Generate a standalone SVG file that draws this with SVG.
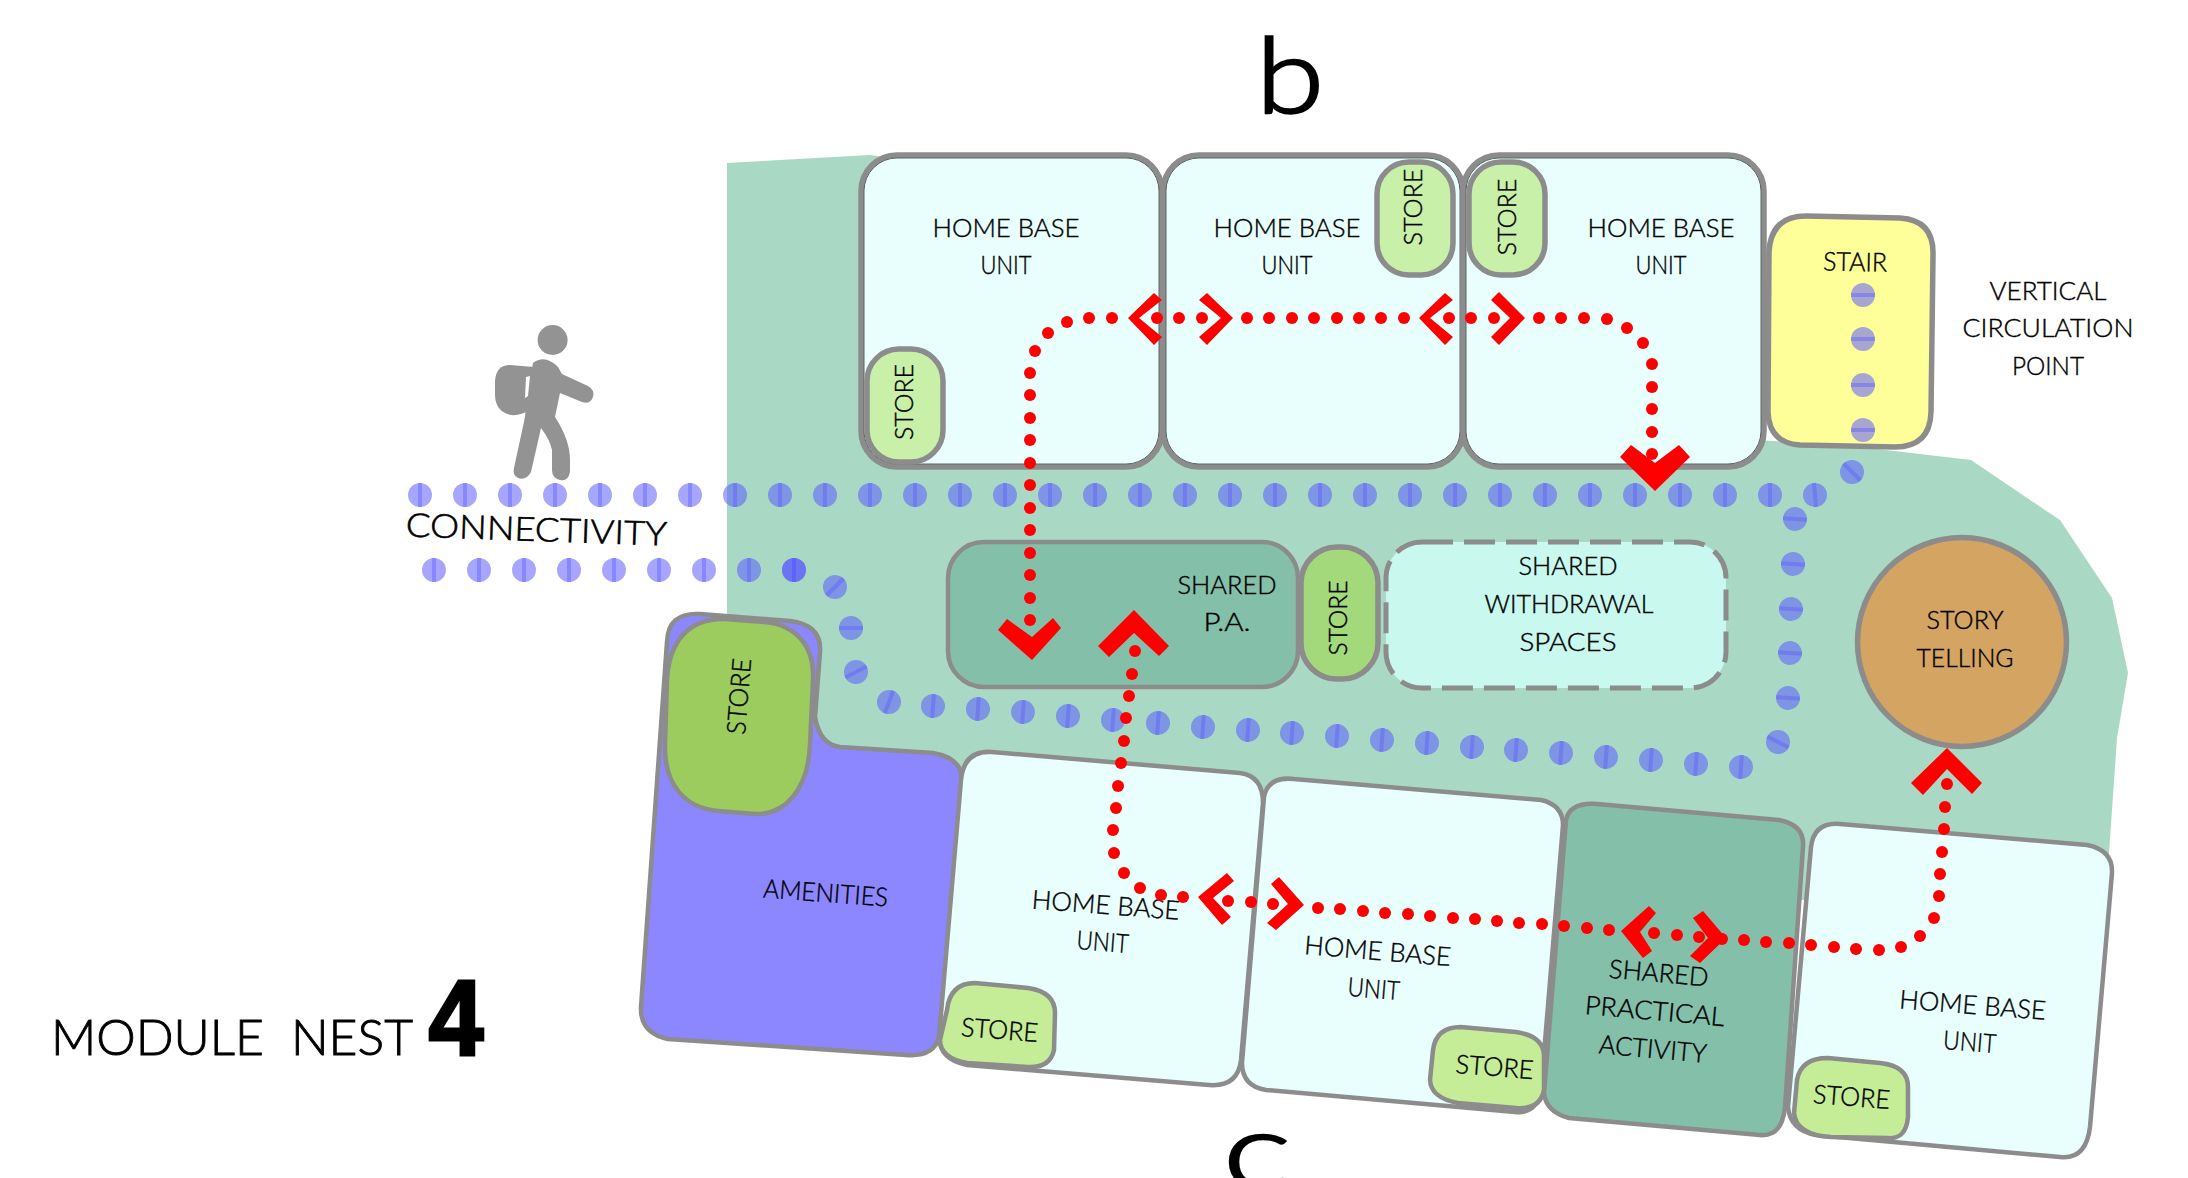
<svg xmlns="http://www.w3.org/2000/svg" width="2188" height="1178" viewBox="0 0 2188 1178">
<style>
text{font-family:"Lato","Liberation Sans",sans-serif;font-weight:300;font-size:26px;fill:#000;stroke:#000;stroke-width:.4;text-anchor:middle;white-space:pre}
.n{stroke:#8c8c8c;stroke-width:4.5}
.t{stroke-width:5.5}
.hb{fill:#e8fffe}
.s1{fill:#c9f0a9}
.s2{fill:#c5ec96}
.pa{fill:#84bfaa}
.ink{fill:none;stroke:#222;stroke-width:.7}
.r{fill:#ff0000}
.b{fill:#5a5aff;fill-opacity:.54}
.bs{stroke:#5a5aff;stroke-opacity:.4;stroke-width:4}
</style>
<defs>
<g id="bd"><circle class="b" r="12"/><line class="bs" y1="-12" y2="12"/></g>
<circle id="rd" class="r" r="6"/>
</defs>
<rect width="2188" height="1178" fill="#ffffff"/>
<path id="ground" fill="#a9d8c4" d="M727,163 L870,155 L885,157 L900,200 L1740,200 L1758,440 L1860,447 L1971,460 L2030,500 L2060,520 L2112,598 L2128,673 L2117,738 L2109,853 L2109,900 L1000,900 L850,800 L800,700 L790,620 L727,616 Z"/>

<g id="home-base-1">
<rect class="n t hb" x="861" y="155" width="301" height="312" rx="36"/>
<rect class="ink" x="864" y="158" width="295" height="306" rx="33"/>
<text x="1006" y="237" textLength="147" lengthAdjust="spacingAndGlyphs">HOME BASE</text>
<text x="1006" y="274" textLength="51" lengthAdjust="spacingAndGlyphs">UNIT</text>
</g>
<g id="home-base-2">
<rect class="n t hb" x="1163" y="155" width="300" height="312" rx="36"/>
<rect class="ink" x="1166" y="158" width="294" height="306" rx="33"/>
<text x="1287" y="237" textLength="147" lengthAdjust="spacingAndGlyphs">HOME BASE</text>
<text x="1287" y="274" textLength="51" lengthAdjust="spacingAndGlyphs">UNIT</text>
</g>
<g id="home-base-3">
<rect class="n t hb" x="1463" y="155" width="301" height="312" rx="36"/>
<rect class="ink" x="1466" y="158" width="295" height="306" rx="33"/>
<text x="1661" y="237" textLength="147" lengthAdjust="spacingAndGlyphs">HOME BASE</text>
<text x="1661" y="274" textLength="51" lengthAdjust="spacingAndGlyphs">UNIT</text>
</g>
<g id="store-1">
<rect class="n t s1" x="867" y="349" width="76" height="113" rx="32"/>
<text transform="translate(913,402) rotate(-90)" textLength="76" lengthAdjust="spacingAndGlyphs">STORE</text>
</g>
<g id="store-2">
<rect class="n t s1" x="1377" y="162" width="76" height="113" rx="32"/>
<text transform="translate(1422,207) rotate(-90)" textLength="77" lengthAdjust="spacingAndGlyphs">STORE</text>
</g>
<g id="store-3">
<rect class="n t s1" x="1469" y="162" width="76" height="113" rx="32"/>
<text transform="translate(1516,217) rotate(-90)" textLength="77" lengthAdjust="spacingAndGlyphs">STORE</text>
</g>
<g id="stair">
<path class="n t" fill="#ffff99" d="M1769,252 Q1771,216 1806,216 L1900,218 Q1934,220 1933,255 L1931,412 Q1930,447 1895,447 L1800,445 Q1769,443 1768,412 Z"/>
<text transform="translate(1855,271) rotate(1)" textLength="64" lengthAdjust="spacingAndGlyphs">STAIR</text>
</g>
<g id="vertical-circulation-label">
<text x="2048" y="300" textLength="117" lengthAdjust="spacingAndGlyphs">VERTICAL</text>
<text x="2048" y="337" textLength="171" lengthAdjust="spacingAndGlyphs">CIRCULATION</text>
<text x="2048" y="375" textLength="72" lengthAdjust="spacingAndGlyphs">POINT</text>
</g>
<g id="shared-pa">
<rect class="n pa" x="948" y="542" width="350" height="145" rx="36"/>
<text x="1227" y="594" textLength="99" lengthAdjust="spacingAndGlyphs">SHARED</text>
<text x="1227" y="631" textLength="47" lengthAdjust="spacingAndGlyphs">P.A.</text>
</g>
<g id="store-mid">
<rect class="n t" fill="#a4d97b" x="1301" y="547" width="77" height="132" rx="36"/>
<text transform="translate(1347,618) rotate(-90)" textLength="75" lengthAdjust="spacingAndGlyphs">STORE</text>
</g>
<g id="shared-withdrawal">
<rect fill="#c9f9ee" stroke="#8c8c8c" stroke-width="5" stroke-dasharray="31 11" x="1386" y="542" width="340" height="146" rx="36"/>
<text x="1568" y="575" textLength="99" lengthAdjust="spacingAndGlyphs">SHARED</text>
<text x="1569" y="613" textLength="169" lengthAdjust="spacingAndGlyphs">WITHDRAWAL</text>
<text x="1568" y="651" textLength="97" lengthAdjust="spacingAndGlyphs">SPACES</text>
</g>
<g id="story-telling">
<circle class="n t" fill="#d4a463" cx="1962" cy="642" r="104.5"/>
<text x="1965" y="629" textLength="77" lengthAdjust="spacingAndGlyphs">STORY</text>
<text x="1965" y="667" textLength="97" lengthAdjust="spacingAndGlyphs">TELLING</text>
</g>

<g id="amenities">
<path class="n" fill="#8c87ff" d="M667,642 Q668,612 700,614 L790,621 Q822,625 820,652 L815,717 Q820,745 840,747 L933,753 Q962,758 962,780 L939,1037 Q934,1057 906,1055 L668,1039 Q640,1033 641,1007 Z"/>
<text transform="translate(825,902) rotate(4.2)" textLength="125" lengthAdjust="spacingAndGlyphs">AMENITIES</text>
</g>
<g id="store-big">
<path class="n" fill="#9ccb5e" d="M667,680 C669,640 690,618 725,619 L765,622 C795,625 815,645 813,680 L810,745 C808,790 785,815 755,814 L718,811 C685,808 664,785 665,745 Z"/>
<text transform="translate(748,697) rotate(-85.4)" textLength="76" lengthAdjust="spacingAndGlyphs">STORE</text>
</g>
<g id="home-base-4">
<path class="n hb" d="M961,780 Q964,750 992,752 L1240,773 Q1263,776 1263,803 L1241,1060 Q1238,1087 1209,1085 L967,1065 Q940,1060 939,1037 Z"/>
<text transform="translate(1105,914) rotate(4.3)" textLength="148" lengthAdjust="spacingAndGlyphs">HOME BASE</text>
<text transform="translate(1102,951) rotate(4.3)" textLength="52" lengthAdjust="spacingAndGlyphs">UNIT</text>
</g>
<g id="store-4">
<path class="n s2" d="M947,1010 Q950,983 975,983 L1028,988 Q1055,992 1055,1013 L1054,1050 Q1050,1068 1028,1067 L967,1063 Q940,1058 940,1040 Z"/>
<text transform="translate(999,1039) rotate(4.5)" textLength="77" lengthAdjust="spacingAndGlyphs">STORE</text>
</g>
<g id="home-base-5">
<path class="n hb" d="M1264,797 Q1268,776 1294,779 L1541,800 Q1563,805 1563,825 L1541,1090 Q1537,1114 1515,1112 L1266,1090 Q1242,1086 1242,1063 Z"/>
<text transform="translate(1377,960) rotate(4.7)" textLength="147" lengthAdjust="spacingAndGlyphs">HOME BASE</text>
<text transform="translate(1373,998) rotate(4.7)" textLength="52" lengthAdjust="spacingAndGlyphs">UNIT</text>
</g>
<g id="store-5">
<path class="n s2" d="M1433,1050 Q1436,1027 1461,1027 L1516,1032 Q1543,1036 1544,1055 L1544,1090 Q1540,1110 1516,1108 L1458,1103 Q1431,1098 1430,1080 Z"/>
<text transform="translate(1494,1076) rotate(4.5)" textLength="78" lengthAdjust="spacingAndGlyphs">STORE</text>
</g>
<g id="shared-practical">
<path class="n pa" d="M1566,820 Q1570,802 1597,804 L1779,820 Q1805,825 1803,847 L1785,1107 Q1782,1137 1760,1135 L1569,1118 Q1546,1112 1544,1093 Z"/>
<text transform="translate(1658,982) rotate(5)" textLength="100" lengthAdjust="spacingAndGlyphs">SHARED</text>
<text transform="translate(1654,1020) rotate(5)" textLength="140" lengthAdjust="spacingAndGlyphs">PRACTICAL</text>
<text transform="translate(1652,1058) rotate(5)" textLength="108" lengthAdjust="spacingAndGlyphs">ACTIVITY</text>
</g>
<g id="home-base-6">
<path class="n hb" d="M1811,847 Q1814,822 1840,824 L2087,845 Q2113,850 2112,873 L2090,1127 Q2086,1160 2060,1157 L1816,1135 Q1790,1130 1788,1107 Z"/>
<text transform="translate(1972,1014) rotate(4.5)" textLength="147" lengthAdjust="spacingAndGlyphs">HOME BASE</text>
<text transform="translate(1969,1051) rotate(4.5)" textLength="53" lengthAdjust="spacingAndGlyphs">UNIT</text>
</g>
<g id="store-6">
<path class="n s2" d="M1797,1080 Q1801,1058 1828,1058 L1880,1063 Q1908,1066 1908,1087 L1908,1117 Q1906,1140 1887,1138 L1831,1137 Q1796,1135 1794,1113 Z"/>
<text transform="translate(1851,1106) rotate(4.5)" textLength="77" lengthAdjust="spacingAndGlyphs">STORE</text>
</g>

<g id="walker" fill="#939393">
<circle cx="552.6" cy="340" r="15"/>
<path d="M495,381 Q496,365 510,365 L534,367 L530,410 Q520,416 511,415 Q496,412 495,396 Z"/>
<path d="M533,363 Q545,354 558,367 L562,374 L588,386 Q595,390 593,397 Q590,405 582,402 L560,393 L555,417 Q570,440 570,460 L570,472 Q568,482 560,480 Q552,478 552,470 L552,450 Q550,440 541,428 L531,472 Q526,481 518,478 Q512,475 514,468 L525,417 L527,395 Z"/>
<path fill="#ffffff" d="M526,377 L530,376 L528,396 L525,398 Z"/>
</g>

<g id="titles">
<text x="1290" y="113" style="font-size:105px;stroke-width:2.5" textLength="68" lengthAdjust="spacingAndGlyphs">b</text>
<text x="1257" y="1188" style="font-size:105px;stroke-width:2.5" textLength="68" lengthAdjust="spacingAndGlyphs">c</text>
<text x="232" y="1055" style="font-size:50px;stroke-width:.9" textLength="362" lengthAdjust="spacingAndGlyphs">MODULE  NEST</text>
<text x="456" y="1055" style="font-family:'Liberation Sans',sans-serif;font-weight:bold;font-size:108px;stroke-width:3" textLength="55" lengthAdjust="spacingAndGlyphs">4</text>
<text transform="translate(536,541) rotate(2)" style="font-size:33px;stroke-width:.6" textLength="261" lengthAdjust="spacingAndGlyphs">CONNECTIVITY</text>
</g>

<g id="connectors">
<g id="connectivity-dots">
<use href="#bd" transform="translate(420,495)"/><use href="#bd" transform="translate(465,495)"/><use href="#bd" transform="translate(510,495)"/><use href="#bd" transform="translate(555,495)"/><use href="#bd" transform="translate(600,495)"/><use href="#bd" transform="translate(645,495)"/><use href="#bd" transform="translate(690,495)"/><use href="#bd" transform="translate(735,495)"/><use href="#bd" transform="translate(780,495)"/><use href="#bd" transform="translate(825,495)"/><use href="#bd" transform="translate(870,495)"/><use href="#bd" transform="translate(915,495)"/><use href="#bd" transform="translate(960,495)"/><use href="#bd" transform="translate(1005,495)"/><use href="#bd" transform="translate(1050,495)"/><use href="#bd" transform="translate(1095,495)"/><use href="#bd" transform="translate(1140,495)"/><use href="#bd" transform="translate(1185,495)"/><use href="#bd" transform="translate(1230,495)"/><use href="#bd" transform="translate(1275,495)"/><use href="#bd" transform="translate(1320,495)"/><use href="#bd" transform="translate(1365,495)"/><use href="#bd" transform="translate(1410,495)"/><use href="#bd" transform="translate(1455,495)"/><use href="#bd" transform="translate(1500,495)"/><use href="#bd" transform="translate(1545,495)"/><use href="#bd" transform="translate(1590,495)"/><use href="#bd" transform="translate(1635,495)"/><use href="#bd" transform="translate(1680,495)"/><use href="#bd" transform="translate(1725,495)"/><use href="#bd" transform="translate(1770,495)"/><use href="#bd" transform="translate(1815,495) rotate(-5)"/>
<use href="#bd" transform="translate(1863,295) rotate(90)"/><use href="#bd" transform="translate(1863,339) rotate(90)"/><use href="#bd" transform="translate(1863,385) rotate(90)"/><use href="#bd" transform="translate(1863,430) rotate(90)"/>
<use href="#bd" transform="translate(1852,472) rotate(-45)"/>
<use href="#bd" transform="translate(1795,519) rotate(-86)"/><use href="#bd" transform="translate(1793,564) rotate(-86)"/><use href="#bd" transform="translate(1791,609) rotate(-86)"/><use href="#bd" transform="translate(1790,653) rotate(-86)"/><use href="#bd" transform="translate(1788,698) rotate(-86)"/><use href="#bd" transform="translate(1778,742) rotate(-63)"/>
<use href="#bd" transform="translate(1741,767) rotate(4)"/><use href="#bd" transform="translate(1696,764) rotate(4)"/><use href="#bd" transform="translate(1651,760) rotate(4)"/><use href="#bd" transform="translate(1606,757) rotate(4)"/><use href="#bd" transform="translate(1561,753) rotate(4)"/><use href="#bd" transform="translate(1516,750) rotate(4)"/><use href="#bd" transform="translate(1472,747) rotate(4)"/><use href="#bd" transform="translate(1427,743) rotate(4)"/><use href="#bd" transform="translate(1382,740) rotate(4)"/><use href="#bd" transform="translate(1337,736) rotate(4)"/><use href="#bd" transform="translate(1292,733) rotate(4)"/><use href="#bd" transform="translate(1248,730) rotate(4)"/><use href="#bd" transform="translate(1203,727) rotate(4)"/><use href="#bd" transform="translate(1158,723) rotate(4)"/><use href="#bd" transform="translate(1113,720) rotate(4)"/><use href="#bd" transform="translate(1068,716) rotate(4)"/><use href="#bd" transform="translate(1023,712) rotate(4)"/><use href="#bd" transform="translate(978,709) rotate(4)"/><use href="#bd" transform="translate(933,706) rotate(4)"/>
<use href="#bd" transform="translate(889,702) rotate(21)"/><use href="#bd" transform="translate(856,672) rotate(63)"/><use href="#bd" transform="translate(851,628) rotate(90)"/><use href="#bd" transform="translate(835,587) rotate(45)"/>
<use href="#bd" transform="translate(794,570)"/><use href="#bd" transform="translate(794,570)"/><use href="#bd" transform="translate(749,570)"/><use href="#bd" transform="translate(704,570)"/><use href="#bd" transform="translate(659,570)"/><use href="#bd" transform="translate(614,570)"/><use href="#bd" transform="translate(569,570)"/><use href="#bd" transform="translate(524,570)"/><use href="#bd" transform="translate(479,570)"/><use href="#bd" transform="translate(434,570)"/>
</g>
<g id="route-top">
<use href="#rd" x="1030" y="620"/><use href="#rd" x="1030" y="598"/><use href="#rd" x="1030" y="575"/><use href="#rd" x="1030" y="553"/><use href="#rd" x="1030" y="530"/><use href="#rd" x="1030" y="508"/><use href="#rd" x="1030" y="485"/><use href="#rd" x="1030" y="463"/><use href="#rd" x="1030" y="440"/><use href="#rd" x="1030" y="418"/><use href="#rd" x="1030" y="395"/><use href="#rd" x="1030" y="373"/><use href="#rd" x="1035" y="351"/><use href="#rd" x="1048" y="333"/><use href="#rd" x="1067" y="322"/><use href="#rd" x="1089" y="318"/><use href="#rd" x="1112" y="318"/><use href="#rd" x="1157" y="318"/><use href="#rd" x="1179" y="318"/><use href="#rd" x="1202" y="318"/><use href="#rd" x="1247" y="318"/><use href="#rd" x="1269" y="318"/><use href="#rd" x="1292" y="318"/><use href="#rd" x="1314" y="318"/><use href="#rd" x="1337" y="318"/><use href="#rd" x="1359" y="318"/><use href="#rd" x="1381" y="318"/><use href="#rd" x="1404" y="318"/><use href="#rd" x="1449" y="318"/><use href="#rd" x="1471" y="318"/><use href="#rd" x="1494" y="318"/><use href="#rd" x="1539" y="318"/><use href="#rd" x="1561" y="318"/><use href="#rd" x="1584" y="318"/><use href="#rd" x="1607" y="319"/><use href="#rd" x="1627" y="328"/><use href="#rd" x="1643" y="343"/><use href="#rd" x="1652" y="364"/><use href="#rd" x="1652" y="387"/><use href="#rd" x="1652" y="409"/><use href="#rd" x="1652" y="432"/><use href="#rd" x="1652" y="454"/>
<polygon class="r" points="1128,318 1154,293 1162,300 1139,318 1162,337 1154,345"/>
<polygon class="r" points="1233,318 1207,293 1199,300 1221,318 1199,337 1207,345"/>
<polygon class="r" points="1419,318 1445,293 1453,300 1430,318 1453,337 1445,345"/>
<polygon class="r" points="1525,318 1499,292 1491,300 1510,318 1491,337 1499,345"/>
<polygon class="r" points="1620,457 1631,445 1655,463 1679,445 1690,457 1655,491"/>
<polygon class="r" points="998,630 1007,619 1032,637 1053,618 1061,628 1032,660"/>
</g>
<g id="route-bottom">
<use href="#rd" x="1135" y="651"/><use href="#rd" x="1132" y="674"/><use href="#rd" x="1129" y="696"/><use href="#rd" x="1126" y="718"/><use href="#rd" x="1124" y="741"/><use href="#rd" x="1121" y="763"/><use href="#rd" x="1118" y="786"/><use href="#rd" x="1116" y="808"/><use href="#rd" x="1113" y="830"/><use href="#rd" x="1114" y="853"/><use href="#rd" x="1124" y="873"/><use href="#rd" x="1140" y="888"/><use href="#rd" x="1161" y="895"/><use href="#rd" x="1183" y="897"/><use href="#rd" x="1228" y="901"/><use href="#rd" x="1251" y="902"/><use href="#rd" x="1273" y="904"/><use href="#rd" x="1318" y="908"/><use href="#rd" x="1340" y="909"/><use href="#rd" x="1363" y="911"/><use href="#rd" x="1385" y="913"/><use href="#rd" x="1408" y="914"/><use href="#rd" x="1430" y="916"/><use href="#rd" x="1453" y="918"/><use href="#rd" x="1475" y="919"/><use href="#rd" x="1497" y="921"/><use href="#rd" x="1519" y="923"/><use href="#rd" x="1542" y="924"/><use href="#rd" x="1564" y="926"/><use href="#rd" x="1587" y="928"/><use href="#rd" x="1609" y="930"/><use href="#rd" x="1654" y="933"/><use href="#rd" x="1677" y="935"/><use href="#rd" x="1699" y="937"/><use href="#rd" x="1722" y="939"/><use href="#rd" x="1744" y="940"/><use href="#rd" x="1766" y="942"/><use href="#rd" x="1789" y="943"/><use href="#rd" x="1811" y="945"/><use href="#rd" x="1834" y="947"/><use href="#rd" x="1856" y="949"/><use href="#rd" x="1879" y="950"/><use href="#rd" x="1901" y="947"/><use href="#rd" x="1920" y="936"/><use href="#rd" x="1934" y="918"/><use href="#rd" x="1939" y="896"/><use href="#rd" x="1940" y="874"/><use href="#rd" x="1942" y="852"/><use href="#rd" x="1944" y="829"/><use href="#rd" x="1945" y="807"/><use href="#rd" x="1947" y="784"/>
<polygon class="r" points="1134,610 1169,646 1159,656 1134,633 1109,657 1098,646"/>
<polygon class="r" points="1198,897 1227,873 1234,881 1213,898 1231,917 1222,925"/>
<polygon class="r" points="1304,905 1279,877 1271,884 1288,904 1267,923 1276,930"/>
<polygon class="r" points="1621,931 1649,906 1656,913 1640,932 1652,951 1643,958"/>
<polygon class="r" points="1726,938 1703,911 1693,918 1708,938 1690,956 1700,963"/>
<polygon class="r" points="1947,748 1982,783 1972,794 1947,769 1923,795 1911,783"/>
</g>
</g>
</svg>
